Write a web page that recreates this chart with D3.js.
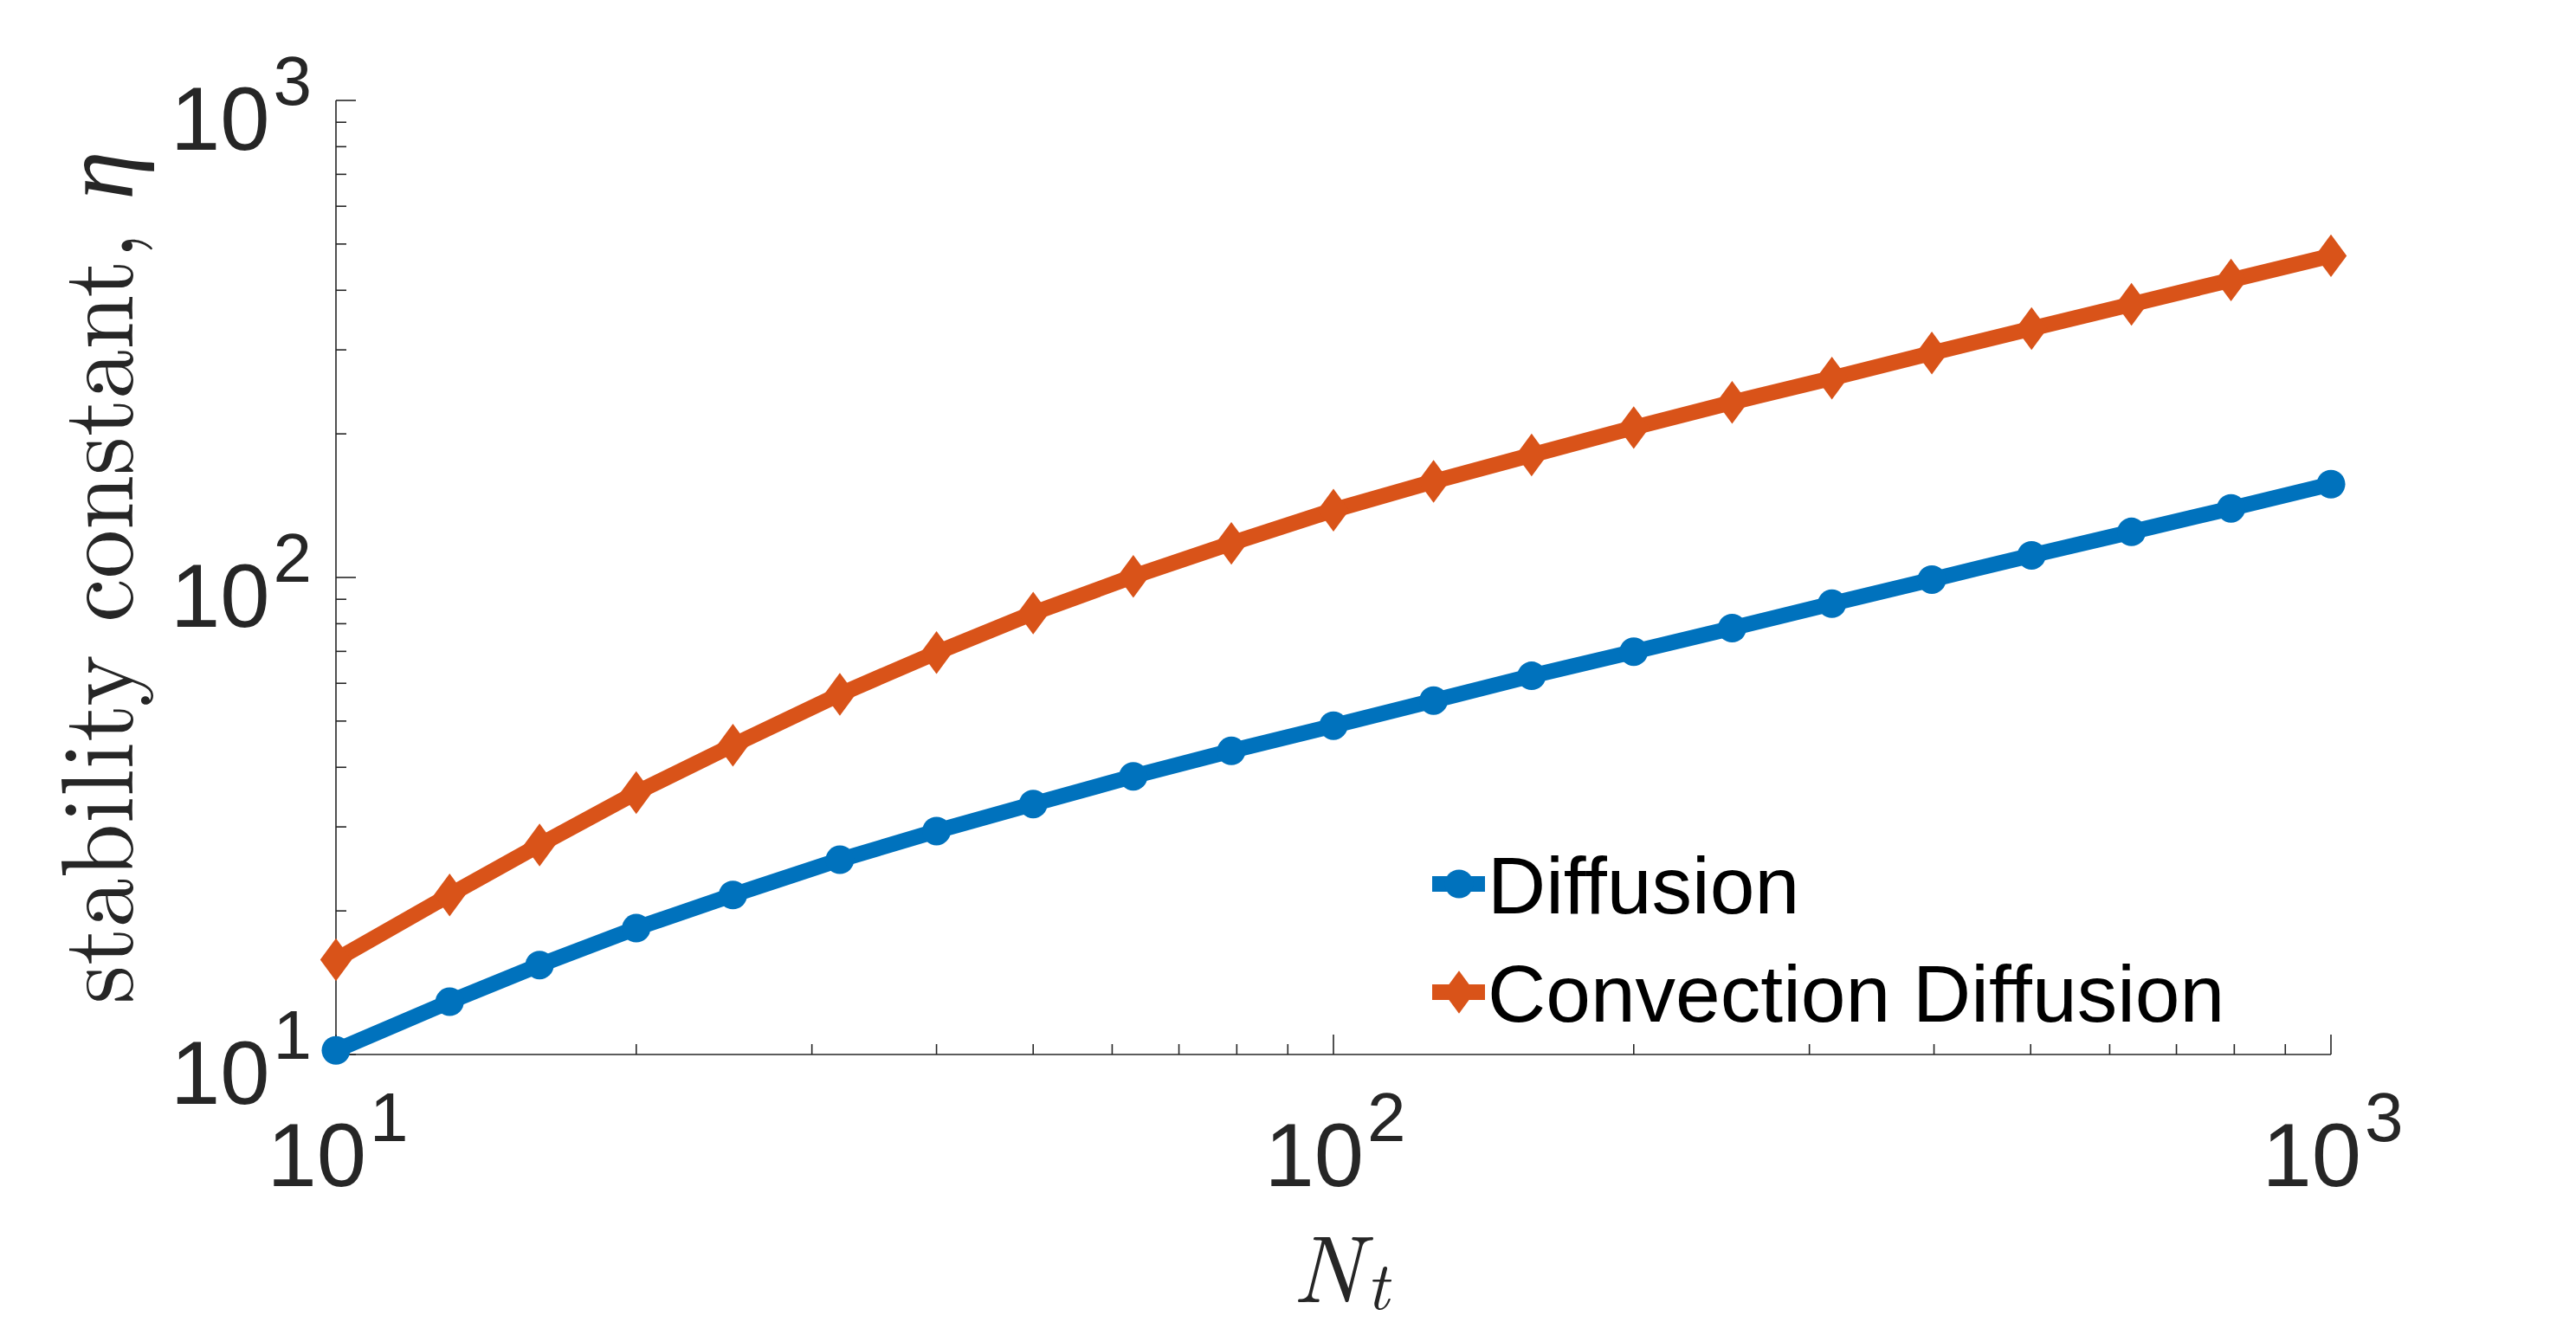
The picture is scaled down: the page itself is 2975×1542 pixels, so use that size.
<!DOCTYPE html>
<html>
<head>
<meta charset="utf-8">
<script src="https://cdn.jsdelivr.net/npm/d3@7"></script>
<style>
  html, body { margin: 0; padding: 0; background: #fff; }
  svg { display: block; }
</style>
</head>
<body>
<svg id="chart" width="2975" height="1542"></svg>
<script>
// ---- data ----
const Nt = [10, 13, 16, 20, 25, 32, 40, 50, 63, 79, 100, 126, 158, 200, 251, 316, 398, 501, 631, 794, 1000];
const diffusion = [10.2, 12.9, 15.4, 18.4, 21.6, 25.6, 29.4, 33.5, 38.3, 43.3, 48.9, 55.2, 62.2, 69.9, 78.3, 88.1, 99.0, 111.3, 124.6, 139.6, 156.9];
const convectionDiffusion = [15.8, 21.6, 27.5, 35.4, 44.5, 56.9, 69.6, 84.2, 100.5, 117.9, 138.4, 159.0, 180.6, 206.2, 232.8, 261.8, 295.5, 332.4, 373.8, 420.3, 472.5];
const seriesNames = ["Diffusion", "Convection Diffusion"];
const seriesColors = ["#0072BD", "#D95319"];
const seriesMarkers = ["circle", "diamond"];
const xTickValues = [10, 100, 1000];
const xTickExponents = ["1", "2", "3"];
const yTickValues = [10, 100, 1000];
const yTickExponents = ["1", "2", "3"];
const yLabelText = "stability constant, ";
const yLabelSymbol = "η";
const xLabelMain = "N";
const xLabelSub = "t";

// ---- layout ----
const svg = d3.select("#chart");
const L = 388, R = 2692, T = 116, B = 1218;
const x = d3.scaleLog().domain([10, 1000]).range([L, R]);
const y = d3.scaleLog().domain([10, 1000]).range([B, T]);
const axisColor = "#262626";
const sansFont = "'Liberation Sans', Arial, Helvetica, sans-serif";
const serifFont = "'Latin Modern Roman', 'CMU Serif', 'Liberation Serif', 'Times New Roman', serif";

// minor ticks
const minorVals = [];
for (const d of [10, 100]) for (let m = 2; m <= 9; m++) minorVals.push(d * m);

const gAxes = svg.append("g");
// axis lines
gAxes.append("line").attr("x1", L).attr("x2", R).attr("y1", B).attr("y2", B)
  .attr("stroke", axisColor).attr("stroke-width", 1.6);
gAxes.append("line").attr("x1", L).attr("x2", L).attr("y1", T).attr("y2", B)
  .attr("stroke", axisColor).attr("stroke-width", 1.6);

// x ticks (inward)
gAxes.selectAll(".xmaj").data(xTickValues).join("line")
  .attr("x1", d => x(d)).attr("x2", d => x(d)).attr("y1", B).attr("y2", B - 23)
  .attr("stroke", axisColor).attr("stroke-width", 1.6);
gAxes.selectAll(".xmin").data(minorVals).join("line")
  .attr("x1", d => x(d)).attr("x2", d => x(d)).attr("y1", B).attr("y2", B - 12)
  .attr("stroke", axisColor).attr("stroke-width", 1.6);
// y ticks
gAxes.selectAll(".ymaj").data(yTickValues).join("line")
  .attr("x1", L).attr("x2", L + 23).attr("y1", d => y(d)).attr("y2", d => y(d))
  .attr("stroke", axisColor).attr("stroke-width", 1.6);
gAxes.selectAll(".ymin").data(minorVals).join("line")
  .attr("x1", L).attr("x2", L + 12).attr("y1", d => y(d)).attr("y2", d => y(d))
  .attr("stroke", axisColor).attr("stroke-width", 1.6);

// x tick labels
const xl = svg.append("g").selectAll("text").data(xTickValues).join("text")
  .attr("x", d => x(d) + 2).attr("y", 1370)
  .attr("text-anchor", "middle")
  .attr("font-family", sansFont).attr("font-size", 103).attr("fill", axisColor);
xl.append("tspan").text("10");
xl.append("tspan").attr("dy", -52).attr("dx", 4).attr("font-size", 80).text((d, i) => xTickExponents[i]);

// y tick labels
const yl = svg.append("g").selectAll("text").data(yTickValues).join("text")
  .attr("x", 360).attr("y", d => y(d) + 57)
  .attr("text-anchor", "end")
  .attr("font-family", sansFont).attr("font-size", 103).attr("fill", axisColor);
yl.append("tspan").text("10");
yl.append("tspan").attr("dy", -52).attr("dx", 4).attr("font-size", 80).text((d, i) => yTickExponents[i]);

// y label
const ylab = svg.append("text")
  .attr("transform", "translate(153," + ((T + B) / 2) + ") rotate(-90)")
  .attr("text-anchor", "middle")
  .attr("font-family", serifFont).attr("font-size", 118).attr("fill", axisColor)
  .attr("textLength", 985).attr("lengthAdjust", "spacingAndGlyphs");
ylab.append("tspan").text(yLabelText);
ylab.append("tspan").attr("font-style", "italic").text(yLabelSymbol);

// x label
const xlab = svg.append("text")
  .attr("x", (L + R) / 2 + 8).attr("y", 1504)
  .attr("text-anchor", "middle")
  .attr("font-family", serifFont).attr("font-size", 110).attr("fill", axisColor)
  .attr("font-style", "italic");
xlab.append("tspan").text(xLabelMain);
xlab.append("tspan").attr("dy", 8).attr("dx", 4).attr("font-size", 78).text(xLabelSub);

// ---- series ----
const series = [diffusion, convectionDiffusion];
const line = d3.line().x(d => x(d[0])).y(d => y(d[1]));

function drawMarker(g, type, color) {
  if (type === "circle") {
    g.append("circle").attr("r", 16.5).attr("fill", color);
  } else {
    g.append("path").attr("d", "M0,-24.7L18.2,0L0,24.7L-18.2,0Z").attr("fill", color);
  }
}

series.forEach((vals, si) => {
  const pts = Nt.map((n, i) => [n, vals[i]]);
  const g = svg.append("g");
  g.append("path").datum(pts).attr("d", line)
    .attr("fill", "none").attr("stroke", seriesColors[si])
    .attr("stroke-width", 18).attr("stroke-linejoin", "round");
  g.selectAll("g.m").data(pts).join("g")
    .attr("transform", d => "translate(" + x(d[0]) + "," + y(d[1]) + ")")
    .each(function () { drawMarker(d3.select(this), seriesMarkers[si], seriesColors[si]); });
});

// ---- legend ----
const legendRows = [1021, 1146];
seriesNames.forEach((name, i) => {
  const g = svg.append("g").attr("transform", "translate(0," + legendRows[i] + ")");
  g.append("line").attr("x1", 1654).attr("x2", 1715).attr("y1", 0).attr("y2", 0)
    .attr("stroke", seriesColors[i]).attr("stroke-width", 18);
  const m = g.append("g").attr("transform", "translate(1685,0)");
  drawMarker(m, seriesMarkers[i], seriesColors[i]);
  g.append("text").attr("x", 1718).attr("y", 34)
    .attr("font-family", sansFont).attr("font-size", 93).attr("fill", "#000")
    .text(name);
});
</script>
</body>
</html>
